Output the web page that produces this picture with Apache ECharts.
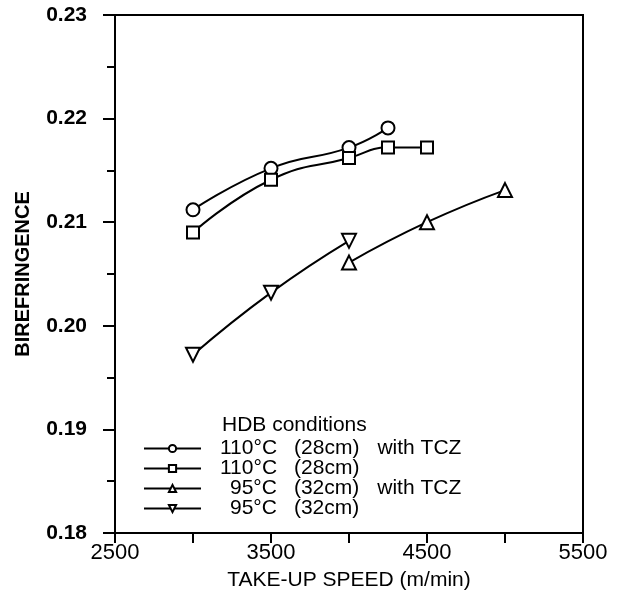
<!DOCTYPE html>
<html>
<head>
<meta charset="utf-8">
<script src="https://cdn.jsdelivr.net/npm/echarts@6/dist/echarts.min.js"></script>
<style>html,body{margin:0;padding:0;background:#fff;}#c{width:620px;height:596px;}</style>
</head>
<body>
<div id="c"></div>
<script>
// ---- data ----
const seriesNames = ['110°C (28cm) with TCZ', '110°C (28cm)', '95°C (32cm) with TCZ', '95°C (32cm)'];
const legendTemp = ['110°C', '110°C', '95°C', '95°C'];
const legendLen = ['(28cm)', '(28cm)', '(32cm)', '(32cm)'];
const legendTcz = ['with TCZ', '', 'with TCZ', ''];
const circleData = [[3000, 0.2112], [3500, 0.2152], [4000, 0.2172], [4250, 0.2191]];
const squareData = [[3000, 0.2090], [3500, 0.2141], [4000, 0.2162], [4250, 0.2172], [4500, 0.2172]];
const upTriData = [[4000, 0.2061], [4500, 0.2100], [5000, 0.2131]];
const downTriData = [[3000, 0.1972], [3500, 0.2032], [4000, 0.2082]];
const xTickLabels = ['2500', '3500', '4500', '5500'];
const yTickLabels = ['0.18', '0.19', '0.20', '0.21', '0.22', '0.23'];

const FONT = "'Liberation Sans', Arial, sans-serif";
const LF = 21;
const LH = 20;
const chart = echarts.init(document.getElementById('c'));

function mkSeries(name, data, symbol, size, rotate) {
  return {
    name: name, type: 'line', data: data, smooth: 0.5,
    symbol: symbol, symbolSize: size, symbolRotate: rotate || 0,
    lineStyle: { color: '#000', width: 2 },
    itemStyle: { color: '#fff', borderColor: '#000', borderWidth: 2 },
    z: 3
  };
}

function rs(extra) {
  return Object.assign({ fontFamily: FONT, fontSize: LF, lineHeight: LH, color: '#000' }, extra);
}

chart.setOption({
  animation: false,
  backgroundColor: '#fff',
  grid: { left: 115, right: 37, top: 15, bottom: 63, show: true, borderColor: '#000', borderWidth: 2 },
  title: {
    text: 'HDB conditions', left: 222, top: 415, padding: 0,
    textStyle: { fontFamily: FONT, fontSize: LF, fontWeight: 'normal', color: '#000' }
  },
  legend: {
    orient: 'vertical', left: 143, top: 438, padding: 0, itemGap: -1,
    itemWidth: 57, itemHeight: 9,
    data: seriesNames,
    formatter: function (name) {
      const i = seriesNames.indexOf(name);
      const tk = legendTemp[i].length > 4 ? 't1' : 't2';
      return '{' + tk + '|' + legendTemp[i] + '}{c|' + legendLen[i] + '}' + (legendTcz[i] ? '{w|' + legendTcz[i] + '}' : '');
    },
    textStyle: {
      fontFamily: FONT, fontSize: LF, color: '#000', lineHeight: LH,
      rich: {
        t1: rs({ padding: [0, 0, 0, 14] }),
        t2: rs({ padding: [0, 0, 0, 24] }),
        c: rs({ padding: [0, 0, 0, 17] }),
        w: rs({ padding: [0, 0, 0, 18] })
      }
    }
  },
  xAxis: {
    type: 'value', min: 2500, max: 5500, interval: 500,
    name: 'TAKE-UP SPEED (m/min)', nameLocation: 'middle', nameGap: 37,
    nameTextStyle: { fontFamily: FONT, fontSize: 21, color: '#000' },
    axisLine: { show: true, lineStyle: { color: '#000', width: 2 } },
    axisTick: { show: true, length: 10, lineStyle: { color: '#000', width: 2 } },
    axisLabel: {
      margin: 9, fontFamily: FONT, fontSize: 22, color: '#000',
      formatter: function (v) { const s = String(Math.round(v)); return xTickLabels.indexOf(s) >= 0 ? s : ''; }
    },
    splitLine: { show: false }
  },
  yAxis: {
    type: 'value', min: 0.18, max: 0.23, interval: 0.01,
    name: 'BIREFRINGENCE', nameLocation: 'middle', nameGap: 82,
    nameTextStyle: { fontFamily: FONT, fontSize: 20, fontWeight: 'bold', color: '#000' },
    axisLine: { show: true, lineStyle: { color: '#000', width: 2 } },
    axisTick: { show: true, length: 12, lineStyle: { color: '#000', width: 2 } },
    minorTick: { show: true, splitNumber: 2, length: 8, lineStyle: { color: '#000', width: 2 } },
    axisLabel: {
      margin: 28, fontFamily: FONT, fontSize: 21, fontWeight: 'bold', color: '#000',
      formatter: function (v) { return yTickLabels[Math.round((v - 0.18) / 0.01)] || ''; }
    },
    splitLine: { show: false }, minorSplitLine: { show: false }
  },
  series: [
    mkSeries(seriesNames[0], circleData, 'circle', 13),
    mkSeries(seriesNames[1], squareData, 'rect', 12),
    mkSeries(seriesNames[2], upTriData, 'triangle', 14),
    mkSeries(seriesNames[3], downTriData, 'triangle', 14, 180)
  ]
});
</script>
</body>
</html>
